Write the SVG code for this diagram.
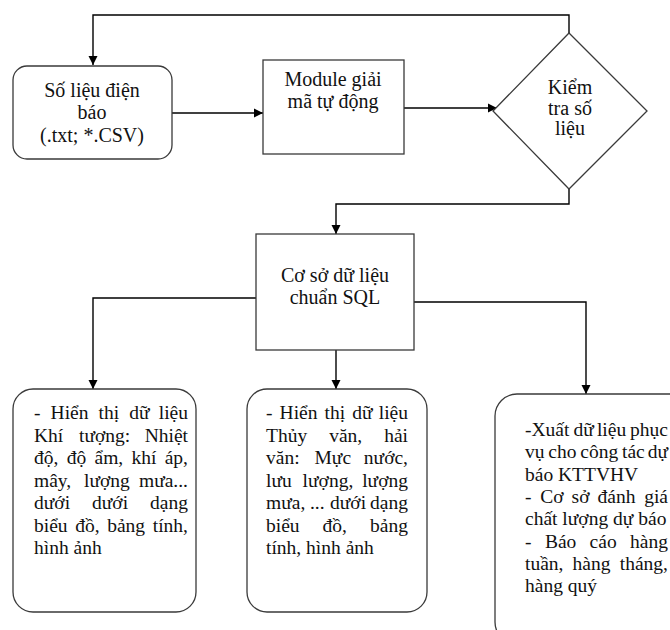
<svg xmlns="http://www.w3.org/2000/svg" width="670" height="630" viewBox="0 0 670 630">
<defs>
<marker id="arr" markerWidth="10" markerHeight="10" refX="9" refY="5" orient="auto" markerUnits="userSpaceOnUse">
<path d="M0,0.5 L9,5 L0,9.5 Z" fill="#000"/>
</marker>
<style>
.box{fill:#fff;stroke:#3a3a3a;stroke-width:1.3}
.ln{fill:none;stroke:#000;stroke-width:1.4}
.t{font-family:"Liberation Serif","Times New Roman",serif;font-size:20px;fill:#111}
.c{text-anchor:middle}
.b{font-family:"Liberation Serif","Times New Roman",serif;font-size:19.5px;fill:#111}
.e{text-anchor:end}
</style>
</defs>
<rect width="670" height="630" fill="#fff"/>

<g id="connectors">
<path class="ln" d="M569,33 V15 H93 V65" marker-end="url(#arr)"/>
<path class="ln" d="M172,113 H263" marker-end="url(#arr)"/>
<path class="ln" d="M404,108 H497" marker-end="url(#arr)"/>
<path class="ln" d="M569,189 V204 H336 V234" marker-end="url(#arr)"/>
<path class="ln" d="M256,298 H93 V389" marker-end="url(#arr)"/>
<path class="ln" d="M336,350 V389" marker-end="url(#arr)"/>
<path class="ln" d="M414,302 H586 V394" marker-end="url(#arr)"/>
</g>

<g id="n-solieu">
<rect class="box" x="13" y="66" width="159" height="93" rx="14"/>
<text class="t c" x="92" y="97">Số liệu điện</text>
<text class="t c" x="92" y="119">báo</text>
<text class="t c" x="92" y="142">(.txt; *.CSV)</text>
</g>

<g id="n-module">
<rect class="box" x="263" y="60" width="141" height="94"/>
<text class="t c" x="333" y="86">Module giải</text>
<text class="t c" x="333" y="108">mã tự động</text>
</g>

<g id="n-kiemtra">
<polygon class="box" points="569,33 647,111 569,189 493,111"/>
<text class="t c" x="570" y="94">Kiểm</text>
<text class="t c" x="570" y="115">tra số</text>
<text class="t c" x="570" y="135">liệu</text>
</g>

<g id="n-csdl">
<rect class="box" x="256" y="234" width="158" height="116"/>
<text class="t c" x="335" y="282">Cơ sở dữ liệu</text>
<text class="t c" x="335" y="304">chuẩn SQL</text>
</g>

<g id="n-khituong">
<rect class="box" x="13" y="389" width="183" height="223" rx="20"/>
<text class="b" y="419"><tspan x="34">-</tspan><tspan x="50.6">Hiển</tspan><tspan x="98.5">thị</tspan><tspan x="129.2">dữ</tspan><tspan x="188" class="e">liệu</tspan></text>
<text class="b" y="441.5"><tspan x="34">Khí</tspan><tspan x="79">tượng:</tspan><tspan x="188" class="e">Nhiệt</tspan></text>
<text class="b" y="464"><tspan x="34">độ,</tspan><tspan x="66.7">độ</tspan><tspan x="94.5">ẩm,</tspan><tspan x="131.5">khí</tspan><tspan x="188" class="e">áp,</tspan></text>
<text class="b" y="486.5"><tspan x="34">mây,</tspan><tspan x="84">lượng</tspan><tspan x="188" class="e">mưa...</tspan></text>
<text class="b" y="509"><tspan x="34">dưới</tspan><tspan x="92">dưới</tspan><tspan x="188" class="e">dạng</tspan></text>
<text class="b" y="531.5"><tspan x="34">biểu</tspan><tspan x="75.2">đồ,</tspan><tspan x="107.2">bảng</tspan><tspan x="188" class="e">tính,</tspan></text>
<text class="b" x="34" y="554">hình ảnh</text>
</g>

<g id="n-thuyvan">
<rect class="box" x="247" y="389" width="180" height="223" rx="20"/>
<text class="b" y="419"><tspan x="266">-</tspan><tspan x="279.6">Hiển</tspan><tspan x="324.5">thị</tspan><tspan x="352.2">dữ</tspan><tspan x="408" class="e">liệu</tspan></text>
<text class="b" y="441.5"><tspan x="266">Thủy</tspan><tspan x="329.2">văn,</tspan><tspan x="408" class="e">hải</tspan></text>
<text class="b" y="464"><tspan x="266">văn:</tspan><tspan x="314.5">Mực</tspan><tspan x="408" class="e">nước,</tspan></text>
<text class="b" y="486.5"><tspan x="266">lưu</tspan><tspan x="302.6">lượng,</tspan><tspan x="408" class="e">lượng</tspan></text>
<text class="b" y="509"><tspan x="266">mưa,</tspan><tspan x="309.9">...</tspan><tspan x="330">dưới</tspan><tspan x="408" class="e">dạng</tspan></text>
<text class="b" y="531.5"><tspan x="266">biểu</tspan><tspan x="322.6">đồ,</tspan><tspan x="408" class="e">bảng</tspan></text>
<text class="b" x="266" y="554">tính, hình ảnh</text>
</g>

<g id="n-xuat">
<rect class="box" x="495" y="394" width="200" height="250" rx="22"/>
<text class="b" y="436"><tspan x="525">-Xuất</tspan><tspan x="573.4">dữ</tspan><tspan x="596.9">liệu</tspan><tspan x="668" class="e">phục</tspan></text>
<text class="b" y="458"><tspan x="525">vụ</tspan><tspan x="548.3">cho</tspan><tspan x="580.3">công</tspan><tspan x="622">tác</tspan><tspan x="668" class="e">dự</tspan></text>
<text class="b" x="525" y="480.5">báo KTTVHV</text>
<text class="b" y="503"><tspan x="525">-</tspan><tspan x="540.2">Cơ</tspan><tspan x="571.6">sở</tspan><tspan x="597.6">đánh</tspan><tspan x="668" class="e">giá</tspan></text>
<text class="b" x="525" y="525">chất lượng dự báo</text>
<text class="b" y="547.5"><tspan x="525">-</tspan><tspan x="544.9">Báo</tspan><tspan x="589.6">cáo</tspan><tspan x="668" class="e">hàng</tspan></text>
<text class="b" y="570"><tspan x="525">tuần,</tspan><tspan x="572.6">hàng</tspan><tspan x="668" class="e">tháng,</tspan></text>
<text class="b" x="525" y="592">hàng quý</text>
</g>
</svg>
